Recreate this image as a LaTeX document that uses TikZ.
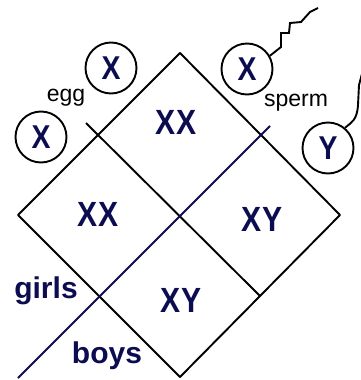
\documentclass[tikz,border=0pt]{standalone}
\usepackage{fontspec}
\setmainfont{Liberation Sans}
\newfontfamily\boldlab[FakeStretch=0.86]{Liberation Sans Bold}
\newfontfamily\boldword{Liberation Sans Bold}
\definecolor{navy}{RGB}{12,12,80}
\begin{document}
\begin{tikzpicture}[x=1pt,y=-1pt,
  edge/.style={line width=1.9pt,black},
  navyline/.style={line width=1.9pt,navy},
  gamete/.style={circle,draw,line width=1.9pt,minimum size=51pt,inner sep=0pt,
     text=navy,font=\boldlab\fontsize{33}{33}\selectfont},
  cell/.style={text=navy,inner sep=0pt,font=\boldlab\fontsize{35}{35}\selectfont},
  word/.style={inner sep=0pt,font=\fontsize{23}{23}\selectfont},
  sex/.style={text=navy,inner sep=0pt,font=\boldword\fontsize{30}{30}\selectfont}]
\useasboundingbox (0,0) rectangle (361,380);
% diamond vertices
\coordinate (T) at (180,53);
\coordinate (L) at (18,215);
\coordinate (R) at (340,215);
\coordinate (B) at (180,377);
\coordinate (C) at (180,215);
\coordinate (nw) at (86,123);
\coordinate (se) at (260,296);
\coordinate (ne) at (270,126);
\coordinate (sw) at (18,378);
\draw[edge,line join=round] (T) -- (L) -- (B) -- (R) -- cycle;
\draw[edge] (nw) -- (se);
\draw[navyline] (ne) -- (sw);
% cells
\node[cell] (c1) at (176,122) {XX};
\node[cell] (c2) at (98,214) {XX};
\node[cell] (c3) at (262,219) {XY};
\node[cell] (c4) at (181,300) {XY};
% gametes
\node[gamete] (e1) at (111,68) {X};
\node[gamete] (e2) at (41,137) {X};
\node[gamete] (s1) at (247,69) {X};
\node[gamete] (s2) at (328,148) {Y};
\node[word] (egg) at (66,98) {egg};
\node[word] (sperm) at (296,103) {sperm};
\node[sex] (girls) at (46,291) {girls};
\node[sex] (boys) at (107,356) {boys};
% tails
\coordinate (t1) at (318,8);
\coordinate (t2) at (363,70);
\draw[edge] (s1.30) -- (281,47) -- (281,33) -- (289,33) -- (290,23) -- (301,22) -- (310,12) -- (t1);
\draw[edge] (s2.50) .. controls (352,122) and (357,120) .. (358,105) -- (359,85) -- (t2);
\end{tikzpicture}
\end{document}
